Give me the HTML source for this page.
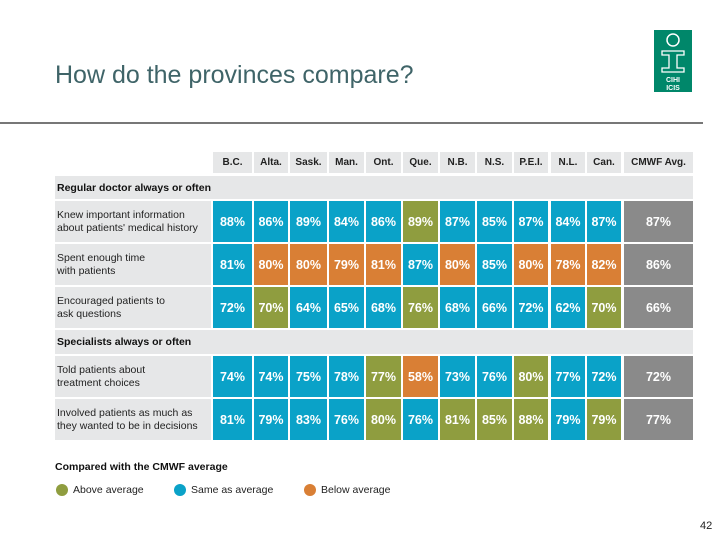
<!DOCTYPE html>
<html><head><meta charset="utf-8">
<style>
body{margin:0;width:720px;height:540px;background:#fff;position:relative;overflow:hidden;font-family:"Liberation Sans",Arial,sans-serif}
.abs{position:absolute}
.cell{position:absolute;display:flex;align-items:center;justify-content:center;color:#fff;font-size:12.5px;font-weight:bold}
.hdr{position:absolute;display:flex;align-items:center;justify-content:center;background:#e6e7e8;font-size:10px;font-weight:bold;color:#222}
.lab{position:absolute;background:#e6e7e8;font-size:10.5px;color:#222;display:flex;align-items:center;padding-left:2px;box-sizing:border-box;line-height:13px}
.band{position:absolute;background:#e6e7e8;font-size:10.5px;font-weight:bold;color:#111;display:flex;align-items:center;padding-left:2px;box-sizing:border-box}
.dot{position:absolute;width:12px;height:12px;border-radius:50%}
.lt{position:absolute;font-size:10.5px;color:#222}
</style></head><body>
<div class="abs" style="left:55px;top:61px;font-size:25px;color:#3f6468">How do the provinces compare?</div>
<div class="abs" style="left:0;top:122px;width:703px;height:2px;background:#777"></div>
<svg class="abs" style="left:654px;top:30px" width="38" height="62" viewBox="0 0 38 62">
<rect width="38" height="62" fill="#00876a"/>
<ellipse cx="19" cy="10" rx="6" ry="6" fill="none" stroke="#fff" stroke-width="1.5"/>
<path d="M8 21h22v4h-7v13h7v4H8v-4h7V25H8z" fill="none" stroke="#fff" stroke-width="1.3"/>
<text x="19" y="52" font-size="7" fill="#fff" text-anchor="middle" font-family="Liberation Sans" font-weight="bold">CIHI</text>
<text x="19" y="60" font-size="7" fill="#fff" text-anchor="middle" font-family="Liberation Sans" font-weight="bold">ICIS</text>
</svg>
<div id="tbl"></div>
<div class="abs" style="left:55px;top:461px;font-size:10.5px;font-weight:bold;color:#111">Compared with the CMWF average</div>
<div class="dot" style="left:56px;top:484px;background:#8f9d3f"></div>
<div class="lt" style="left:73px;top:484px">Above average</div>
<div class="dot" style="left:174px;top:484px;background:#0aa2c8"></div>
<div class="lt" style="left:191px;top:484px">Same as average</div>
<div class="dot" style="left:304px;top:484px;background:#d97f35"></div>
<div class="lt" style="left:321px;top:484px">Below average</div>
<div class="abs" style="left:700px;top:520px;font-size:11px;color:#222">42</div>
<script>
const columns=["B.C.","Alta.","Sask.","Man.","Ont.","Que.","N.B.","N.S.","P.E.I.","N.L.","Can.","CMWF Avg."];
const rowLabels=["Knew important information<br>about patients' medical history","Spent enough time<br>with patients","Encouraged patients to<br>ask questions","Told patients about<br>treatment choices","Involved patients as much as<br>they wanted to be in decisions"];
const values=[
[88,86,89,84,86,89,87,85,87,84,87,87],
[81,80,80,79,81,87,80,85,80,78,82,86],
[72,70,64,65,68,76,68,66,72,62,70,66],
[74,74,75,78,77,58,73,76,80,77,72,72],
[81,79,83,76,80,76,81,85,88,79,79,77]];
const ratings=[
"sssssasssss",
"sbbbbsbsbbb",
"sasssassssa",
"ssssabssass",
"ssssasaaasa"];
const sections=["Regular doctor always or often","Specialists always or often"];
const colL=[213,254,290,329,366,403,440,477,514,551,587,624];
const colR=[252,288,327,364,401,438,475,512,548,585,621,693];
const rowY=[[201,242],[244,285],[287,328],[356,397],[399,440]];
const bandY=[[176,199],[330,354]];
const colors={a:"#8f9d3f",s:"#0aa2c8",b:"#d97f35",g:"#8a8a8a"};
const t=document.getElementById('tbl');
function box(cls,x,y,w,h,html){const d=document.createElement('div');d.className=cls;d.style.left=x+'px';d.style.top=y+'px';d.style.width=w+'px';d.style.height=h+'px';d.innerHTML=html;t.appendChild(d);return d;}
columns.forEach((c,i)=>{const d=box('hdr',colL[i],152,colR[i]-colL[i],21,c);

});
sections.forEach((s,i)=>{const d=box('band',55,bandY[i][0],638,bandY[i][1]-bandY[i][0],s);

});
rowLabels.forEach((r,ri)=>{const y0=rowY[ri][0],h=rowY[ri][1]-y0;
const l=box('lab',55,y0,156,h,r);


values[ri].forEach((v,ci)=>{const k=ci<11?ratings[ri][ci]:'g';
const d=box('cell',colL[ci],y0,colR[ci]-colL[ci],h,v+'%');d.style.background=colors[k];

});});
</script>
</body></html>
